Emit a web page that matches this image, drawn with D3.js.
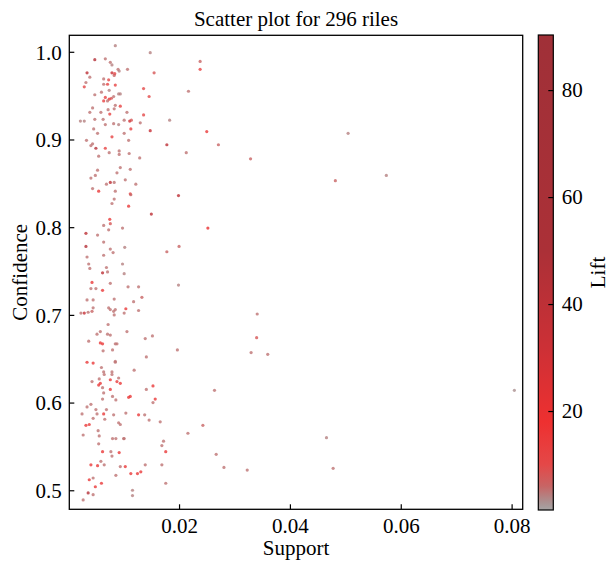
<!DOCTYPE html>
<html>
<head>
<meta charset="utf-8">
<script src="https://cdn.jsdelivr.net/npm/d3@7"></script>
<style>
  body { margin: 0; background: #fff; }
  text { font-family: "Liberation Serif", "Times New Roman", serif; fill: #000; }
</style>
</head>
<body>
<div id="my_dataviz"></div>
<script>
// -- values
var support = [
  0.0085, 0.0148, 0.0048, 0.0067, 0.0076, 0.0079, 0.0090, 0.0092, 0.0107, 0.0034,
  0.0079, 0.0084, 0.0083, 0.0039, 0.0155, 0.0064, 0.0073, 0.0032, 0.0064, 0.0071,
  0.0085, 0.0029, 0.0136, 0.0060, 0.0074, 0.0048, 0.0091, 0.0094, 0.0146, 0.0067,
  0.0078, 0.0082, 0.0074, 0.0064, 0.0071, 0.0085, 0.0094, 0.0044, 0.0072, 0.0083,
  0.0039, 0.0059, 0.0075, 0.0106, 0.0136, 0.0022, 0.0029, 0.0048, 0.0063, 0.0067,
  0.0082, 0.0091, 0.0101, 0.0111, 0.0114, 0.0130, 0.0183, 0.0046, 0.0113, 0.0148,
  0.0053, 0.0101, 0.0079, 0.0033, 0.0044, 0.0041, 0.0109, 0.0178, 0.0050, 0.0067,
  0.0092, 0.0074, 0.0092, 0.0110, 0.0055, 0.0129, 0.0094, 0.0053, 0.0112, 0.0049,
  0.0088, 0.0041, 0.0103, 0.0076, 0.0069, 0.0083, 0.0122, 0.0044, 0.0055, 0.0085,
  0.0112, 0.0113, 0.0199, 0.0083, 0.0079, 0.0109, 0.0150, 0.0075, 0.0064, 0.0076,
  0.0073, 0.0098, 0.0032, 0.0053, 0.0064, 0.0032, 0.0076, 0.0102, 0.0081, 0.0178,
  0.0200, 0.0034, 0.0064, 0.0037, 0.0039, 0.0069, 0.0098, 0.0062, 0.0071, 0.0101,
  0.0043, 0.0076, 0.0041, 0.0050, 0.0062, 0.0108, 0.0127, 0.0199, 0.0133, 0.0034,
  0.0045, 0.0083, 0.0118, 0.0045, 0.0073, 0.0076, 0.0085, 0.0082, 0.0104, 0.0127,
  0.0023, 0.0029, 0.0036, 0.0043, 0.0083, 0.0101, 0.0072, 0.0052, 0.0058, 0.0071,
  0.0076, 0.0106, 0.0139, 0.0152, 0.0037, 0.0058, 0.0062, 0.0085, 0.0088, 0.0063,
  0.0080, 0.0197, 0.0141, 0.0034, 0.0045, 0.0085, 0.0085, 0.0060, 0.0119, 0.0064,
  0.0065, 0.0079, 0.0079, 0.0056, 0.0076, 0.0091, 0.0043, 0.0088, 0.0094, 0.0058,
  0.0055, 0.0062, 0.0076, 0.0141, 0.0153, 0.0064, 0.0080, 0.0109, 0.0112, 0.0062,
  0.0086, 0.0157, 0.0153, 0.0041, 0.0034, 0.0050, 0.0069, 0.0025, 0.0052, 0.0064,
  0.0082, 0.0104, 0.0127, 0.0138, 0.0045, 0.0066, 0.0146, 0.0166, 0.0032, 0.0038,
  0.0091, 0.0094, 0.0054, 0.0027, 0.0056, 0.0080, 0.0086, 0.0100, 0.0101, 0.0172,
  0.0169, 0.0055, 0.0062, 0.0077, 0.0092, 0.0079, 0.0176, 0.0059, 0.0041, 0.0053,
  0.0065, 0.0094, 0.0103, 0.0139, 0.0169, 0.0086, 0.0113, 0.0125, 0.0131, 0.0045,
  0.0038, 0.0060, 0.0176, 0.0049, 0.0116, 0.0036, 0.0045, 0.0116, 0.0027, 0.0238,
  0.0238, 0.0217, 0.0250, 0.0505, 0.0271, 0.0213, 0.0329, 0.0482, 0.0252, 0.0341,
  0.0340, 0.0330, 0.0360, 0.0264, 0.0243, 0.0216, 0.0466, 0.0267, 0.0478, 0.0281,
  0.0323, 0.0574, 0.0805
];
var confidence = [
  1.007, 0.999, 0.991, 0.992, 0.988, 0.985, 0.980, 0.978, 0.980, 0.976,
  0.976, 0.975, 0.973, 0.971, 0.976, 0.969, 0.968, 0.965, 0.963, 0.963,
  0.962, 0.960, 0.958, 0.954, 0.956, 0.951, 0.952, 0.952, 0.949, 0.948,
  0.947, 0.949, 0.946, 0.944, 0.944, 0.939, 0.938, 0.936, 0.934, 0.935,
  0.931, 0.931, 0.929, 0.931, 0.928, 0.921, 0.921, 0.923, 0.923, 0.917,
  0.918, 0.917, 0.922, 0.921, 0.922, 0.919, 0.922, 0.912, 0.912, 0.910,
  0.907, 0.907, 0.903, 0.899, 0.895, 0.893, 0.899, 0.894, 0.890, 0.890,
  0.887, 0.885, 0.883, 0.884, 0.881, 0.879, 0.868, 0.865, 0.866, 0.859,
  0.862, 0.856, 0.854, 0.851, 0.849, 0.851, 0.849, 0.844, 0.841, 0.841,
  0.838, 0.837, 0.836, 0.832, 0.827, 0.824, 0.815, 0.809, 0.802, 0.804,
  0.797, 0.799, 0.793, 0.791, 0.783, 0.778, 0.775, 0.777, 0.771, 0.772,
  0.778, 0.766, 0.768, 0.758, 0.753, 0.754, 0.758, 0.748, 0.749, 0.747,
  0.737, 0.736, 0.730, 0.730, 0.728, 0.732, 0.732, 0.734, 0.720, 0.717,
  0.717, 0.718, 0.715, 0.708, 0.708, 0.706, 0.706, 0.704, 0.707, 0.705,
  0.702, 0.702, 0.703, 0.704, 0.700, 0.702, 0.689, 0.678, 0.681, 0.678,
  0.677, 0.681, 0.673, 0.676, 0.670, 0.668, 0.667, 0.667, 0.667, 0.659,
  0.660, 0.660, 0.652, 0.646, 0.645, 0.647, 0.646, 0.640, 0.637, 0.635,
  0.632, 0.635, 0.632, 0.627, 0.626, 0.628, 0.624, 0.624, 0.622, 0.622,
  0.620, 0.617, 0.615, 0.615, 0.619, 0.611, 0.607, 0.606, 0.607, 0.604,
  0.603, 0.604, 0.600, 0.598, 0.595, 0.592, 0.592, 0.587, 0.587, 0.587,
  0.586, 0.588, 0.586, 0.586, 0.582, 0.581, 0.580, 0.578, 0.574, 0.575,
  0.577, 0.575, 0.568, 0.563, 0.562, 0.559, 0.559, 0.559, 0.559, 0.556,
  0.551, 0.553, 0.544, 0.544, 0.543, 0.539, 0.544, 0.533, 0.529, 0.528,
  0.529, 0.527, 0.527, 0.529, 0.529, 0.517, 0.519, 0.519, 0.521, 0.514,
  0.512, 0.508, 0.508, 0.504, 0.500, 0.497, 0.495, 0.494, 0.489, 0.989,
  0.980, 0.955, 0.909, 0.907, 0.894, 0.885, 0.878, 0.853, 0.799, 0.701,
  0.674, 0.657, 0.655, 0.614, 0.574, 0.565, 0.560, 0.541, 0.525, 0.526,
  0.523, 0.859, 0.614
];
var lift = [
  4, 4, 45, 5, 5, 4, 5, 4, 5, 40,
  35, 12, 6, 5, 8, 5, 10, 5, 5, 12,
  12, 10, 10, 5, 4, 5, 4, 4, 10, 12,
  8, 5, 15, 12, 5, 5, 12, 5, 5, 5,
  5, 5, 12, 5, 10, 4, 4, 5, 5, 5,
  5, 4, 5, 30, 8, 5, 4, 5, 12, 35,
  5, 5, 12, 5, 5, 5, 5, 40, 45, 12,
  5, 5, 5, 5, 5, 5, 5, 5, 5, 5,
  5, 5, 5, 40, 5, 5, 5, 5, 15, 5,
  10, 6, 40, 5, 5, 15, 40, 15, 5, 8,
  5, 5, 40, 5, 5, 45, 5, 4, 5, 6,
  6, 5, 5, 5, 5, 5, 4, 40, 5, 4,
  15, 5, 5, 5, 15, 5, 5, 4, 6, 5,
  5, 5, 5, 5, 5, 5, 5, 5, 15, 5,
  5, 35, 5, 6, 5, 5, 5, 5, 5, 5,
  5, 5, 5, 5, 5, 15, 15, 5, 5, 5,
  5, 5, 5, 15, 15, 5, 5, 5, 5, 5,
  5, 5, 5, 5, 15, 5, 5, 15, 15, 15,
  15, 5, 15, 5, 15, 5, 5, 15, 15, 5,
  5, 15, 5, 5, 5, 5, 5, 5, 5, 15,
  5, 5, 15, 5, 5, 5, 5, 5, 15, 15,
  5, 5, 5, 5, 5, 5, 5, 5, 5, 5,
  5, 5, 15, 5, 15, 5, 15, 5, 15, 15,
  5, 5, 15, 5, 5, 5, 15, 15, 15, 5,
  15, 15, 5, 15, 4, 45, 5, 4, 5, 6,
  12, 5, 15, 4, 6, 5, 6, 6, 20, 5,
  8, 5, 5, 5, 6, 5, 4, 5, 5, 5,
  5, 4, 3
];

var supportTicks = [0.02, 0.04, 0.06, 0.08];
var confidenceTicks = [0.5, 0.6, 0.7, 0.8, 0.9, 1.0];
var liftTicks = [20, 40, 60, 80];
var liftRange = [1.5, 90.3];

// colormap stops (grey -> red -> brown)
var cmapStops = [1.5, 3, 6, 10, 18, 32, 50, 90.3];
var cmapColors = ["#a5a5a5", "#ab9090", "#c86464", "#e44848", "#ee3030", "#cc3036", "#ab3037", "#a03038"];

var data = support.map(function (s, i) {
  return { support: s, confidence: confidence[i], lift: lift[i] };
});

var W = 613, H = 562;
var plot = { left: 69.3, right: 522.7, top: 35.3, bottom: 509.3 };
var cbar = { left: 538.3, right: 553.3, top: 35, bottom: 510 };

var svg = d3.select("#my_dataviz")
  .append("svg")
  .attr("width", W)
  .attr("height", H);

var x = d3.scaleLinear().domain([0.0002, 0.0820]).range([plot.left, plot.right]);
var y = d3.scaleLinear().domain([0.4783, 1.0188]).range([plot.bottom, plot.top]);
var color = d3.scaleLinear().domain(cmapStops).range(cmapColors).clamp(true);

// title
svg.append("text")
  .attr("x", (plot.left + plot.right) / 2)
  .attr("y", 25.5)
  .attr("text-anchor", "middle")
  .style("font-size", "21px")
  .text("Scatter plot for 296 riles");

// points
svg.append("g")
  .selectAll("circle")
  .data(data)
  .enter()
  .append("circle")
  .attr("cx", function (d) { return x(d.support); })
  .attr("cy", function (d) { return y(d.confidence); })
  .attr("r", 1.6)
  .attr("fill", function (d) { return color(d.lift); })
  .attr("fill-opacity", 0.8);

// axes, ticks pointing inward
var xAxis = svg.append("g")
  .attr("transform", "translate(0," + plot.bottom + ")")
  .call(d3.axisBottom(x).tickValues(supportTicks).tickFormat(d3.format(".2f"))
    .tickSizeInner(-5).tickSizeOuter(0).tickPadding(9));
var yAxis = svg.append("g")
  .attr("transform", "translate(" + plot.left + ",0)")
  .call(d3.axisLeft(y).tickValues(confidenceTicks).tickFormat(d3.format(".1f"))
    .tickSizeInner(-5).tickSizeOuter(0).tickPadding(7.5));

[xAxis, yAxis].forEach(function (a) {
  a.select(".domain").remove();
  a.attr("font-family", null);
  a.selectAll(".tick line").attr("stroke", "#000").attr("stroke-width", 1.2);
  a.selectAll(".tick text").style("font-size", "21px");
});
yAxis.selectAll(".tick text").attr("dy", "0.35em");

svg.append("rect")
  .attr("x", plot.left)
  .attr("y", plot.top)
  .attr("width", plot.right - plot.left)
  .attr("height", plot.bottom - plot.top)
  .attr("fill", "none")
  .attr("stroke", "#000")
  .attr("stroke-width", 1.3);

// axis labels
svg.append("text")
  .attr("x", (plot.left + plot.right) / 2)
  .attr("y", 555)
  .attr("text-anchor", "middle")
  .style("font-size", "21px")
  .text("Support");

svg.append("text")
  .attr("transform", "translate(27," + (plot.top + plot.bottom) / 2 + ") rotate(-90)")
  .attr("text-anchor", "middle")
  .style("font-size", "21px")
  .text("Confidence");

/* ---------------- colorbar ---------- */
var cy = d3.scaleLinear().domain(liftRange).range([cbar.bottom, cbar.top]);

var grad = svg.append("defs")
  .append("linearGradient")
  .attr("id", "liftGrad")
  .attr("x1", 0).attr("y1", 1).attr("x2", 0).attr("y2", 0);
grad.selectAll("stop")
  .data(cmapStops)
  .enter()
  .append("stop")
  .attr("offset", function (d) { return (d - liftRange[0]) / (liftRange[1] - liftRange[0]); })
  .attr("stop-color", function (d) { return color(d); });

svg.append("rect")
  .attr("x", cbar.left)
  .attr("y", cbar.top)
  .attr("width", cbar.right - cbar.left)
  .attr("height", cbar.bottom - cbar.top)
  .attr("fill", "url(#liftGrad)")
  .attr("stroke", "#000")
  .attr("stroke-width", 1.2);

var cAxis = svg.append("g")
  .attr("transform", "translate(" + cbar.right + ",0)")
  .call(d3.axisRight(cy).tickValues(liftTicks)
    .tickSizeInner(-5).tickSizeOuter(0).tickPadding(8.5));
cAxis.select(".domain").remove();
cAxis.attr("font-family", null);
cAxis.selectAll(".tick line").attr("stroke", "#000").attr("stroke-width", 1.2);
cAxis.selectAll(".tick text").style("font-size", "21px");

svg.append("text")
  .attr("transform", "translate(605," + (cbar.top + cbar.bottom) / 2 + ") rotate(-90)")
  .attr("text-anchor", "middle")
  .style("font-size", "21px")
  .text("Lift");
</script>
</body>
</html>
